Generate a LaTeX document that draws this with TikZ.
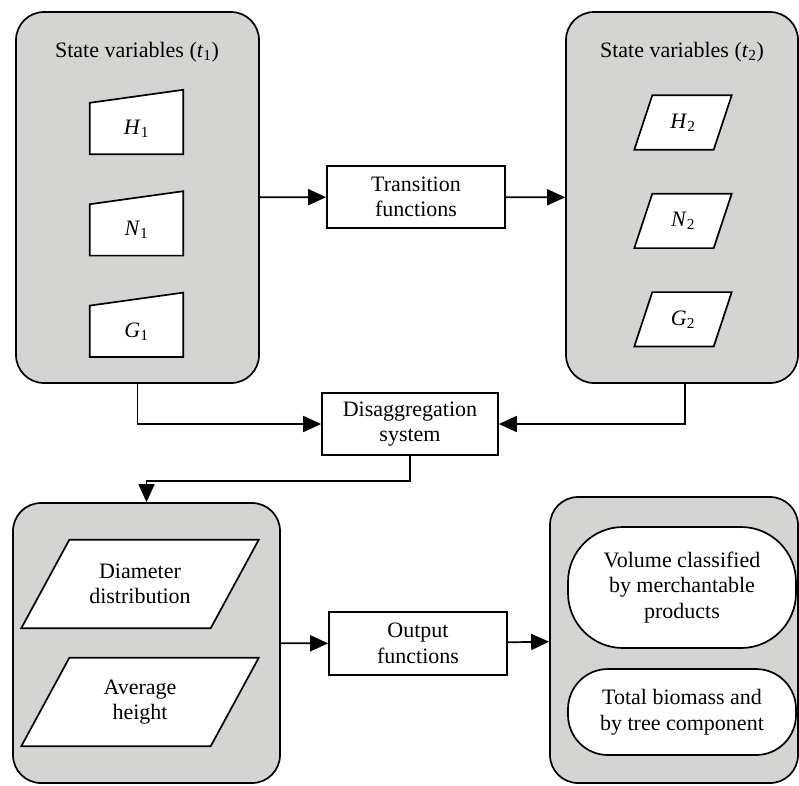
\documentclass[tikz,border=0pt]{standalone}
\usepackage{fontspec}
\setmainfont{Liberation Serif}
\usetikzlibrary{
    positioning,
    arrows.meta
}
\definecolor{panelgray}{RGB}{212,213,211}
\pgfdeclarelayer{back}
\pgfsetlayers{back,main}

\begin{document}
\begin{tikzpicture}[
      x=1pt, y=-1pt,
      font=\fontsize{22}{25.5}\selectfont,
      % Set distances between nodes
      node distance=50pt and 50pt,
      % Define styles for the elements
      panel/.style={
          rectangle,
          draw,
          line width=1.7pt,
          fill=panelgray,
          rounded corners=28pt,
          inner sep=0pt
        },
      func/.style={
          rectangle,
          draw,
          line width=1.7pt,
          fill=white,
          align=center,
          inner sep=0pt,
          minimum width=178pt,
          minimum height=62pt
        },
      slot/.style={
          rectangle,
          inner sep=0pt,
          align=center
        },
      manual/.style={
          slot,
          minimum width=93pt,
          minimum height=51pt
        },
      para/.style={
          slot,
          minimum width=79pt,
          minimum height=54pt
        },
      result/.style={
          rectangle,
          draw,
          line width=1.7pt,
          fill=white,
          rounded corners=40pt,
          align=center,
          inner sep=0pt,
          minimum width=228pt
        },
      outline/.style={
          draw,
          line width=1.7pt,
          fill=white
        },
      arrow/.style={
          -{Triangle[length=18pt,width=16pt]}, % Arrow tip style
          line width=1.7pt
        }
    ]
    \useasboundingbox (0,0) rectangle (799,785);

    % Gray panels
    \begin{pgfonlayer}{back}
      \node[panel, minimum width=243pt, minimum height=371pt] (st1) at (137.5,197.5) {};
      \node[panel, minimum width=232pt, minimum height=371pt] (st2) at (682,197.5) {};
      \node[panel, minimum width=267pt, minimum height=280pt] (stand) at (146.5,643) {};
      \node[panel, minimum width=248pt, minimum height=286pt] (prod) at (674,640) {};
    \end{pgfonlayer}

    \node (st1lbl) at (137,52) {State variables (\textit{t}\textsubscript{1})};
    \node (st2lbl) at (682,52) {State variables (\textit{t}\textsubscript{2})};

    % Variables at t1 and t2
    \node[manual] (h1) at (136.5,128.5) {\textit{H}\textsubscript{1}};
    \node[manual, below=of h1] (n1) {\textit{N}\textsubscript{1}};
    \node[manual, below=of n1] (g1) {\textit{G}\textsubscript{1}};

    \node[para] (h2) at (683,122.5) {\textit{H}\textsubscript{2}};
    \node[para, below=44pt of h2] (n2) {\textit{N}\textsubscript{2}};
    \node[para, below=44pt of n2] (g2) {\textit{G}\textsubscript{2}};

    % Stand description
    \node[slot, minimum width=189pt, minimum height=88pt] (diam) at (140,584) {Diameter\\distribution};
    \node[slot, minimum width=189pt, minimum height=88pt] (avgh) at (140,702) {Average\\height};

    % Outlines of the variable shapes
    \begin{pgfonlayer}{back}
      \foreach \v in {h1,n1,g1}
        \draw[outline] (\v.south west) -- (\v.south east) -- ([yshift=13pt]\v.north east) -- (\v.north west) -- cycle;
      \foreach \v in {h2,n2,g2}
        \draw[outline] ([xshift=9pt]\v.north west) -- ([xshift=9pt]\v.north east) -- ([xshift=-9pt]\v.south east) -- ([xshift=-9pt]\v.south west) -- cycle;
      \foreach \v in {diam,avgh}
        \draw[outline] ([xshift=24pt]\v.north west) -- ([xshift=24pt]\v.north east) -- ([xshift=-24pt]\v.south east) -- ([xshift=-24pt]\v.south west) -- cycle;
    \end{pgfonlayer}

    % Functions
    \node[func] (trans) at (416,197) {Transition\\functions};
    \node[func, minimum width=176pt] (disagg) at (410,424) {Disaggregation\\system};
    \node[func, minimum height=63pt] (outfn) at (418,643.5) {Output\\functions};

    % Outputs
    \node[result, rounded corners=55pt, minimum height=121pt] (vol) at (682,587.5) {Volume classified\\by merchantable\\products};
    \node[result, minimum height=86pt] (bio) at (682,712) {Total biomass and\\by tree component};

    % Draw the arrows connecting the nodes
    \draw[arrow] (st1) -- (trans);
    \draw[arrow] (trans) -- (st2);
    \draw[arrow] (st1.south) |- (disagg.west);
    \draw[arrow] ([xshift=3pt]st2.south) |- (disagg.east);
    \draw[arrow] (disagg.south) -- ++(0,25) -| (stand.north);
    \draw[arrow] (stand) -- (outfn);
    \draw[arrow] (outfn) -- (prod);

  \end{tikzpicture}
\end{document}
